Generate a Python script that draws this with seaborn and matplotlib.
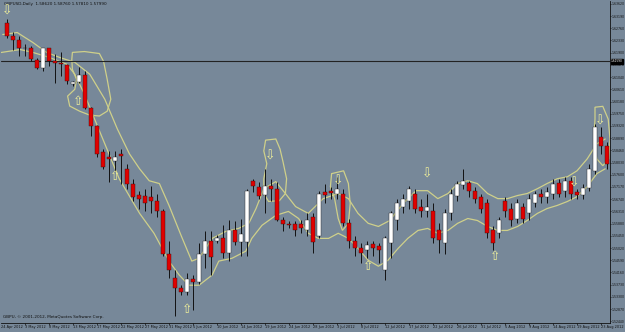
import matplotlib
matplotlib.use("Agg")
import matplotlib.pyplot as plt
import numpy as np
import pandas as pd
import seaborn as sns

# ---------------- data ----------------
opens = [1.6296, 1.6247, 1.6236, 1.6208, 1.6205, 1.6163, 1.6135, 1.6205, 1.6159, 1.6152,
         1.6145, 1.6079, 1.6086, 1.6110, 1.5995, 1.5931, 1.5841, 1.5823, 1.5809, 1.5834,
         1.5781, 1.5729, 1.5690, 1.5687, 1.5683, 1.5669, 1.5634, 1.5480, 1.5396, 1.5361,
         1.5347, 1.5393, 1.5382, 1.5480, 1.5526, 1.5526, 1.5536, 1.5484, 1.5564, 1.5522,
         1.5522, 1.5739, 1.5718, 1.5690, 1.5722, 1.5711, 1.5599, 1.5585, 1.5585, 1.5585,
         1.5564, 1.5613, 1.5543, 1.5701, 1.5704, 1.5694, 1.5694, 1.5589, 1.5526, 1.5501,
         1.5494, 1.5515, 1.5508, 1.5424, 1.5519, 1.5599, 1.5648, 1.5669, 1.5694, 1.5648,
         1.5634, 1.5634, 1.5564, 1.5519, 1.5624, 1.5687, 1.5725, 1.5732, 1.5704, 1.5683,
         1.5659, 1.5564, 1.5554, 1.5669, 1.5641, 1.5606, 1.5648, 1.5624, 1.5659, 1.5694,
         1.5683, 1.5694, 1.5732, 1.5704, 1.5739, 1.5701, 1.5690, 1.5715, 1.5774, 1.5893,
         1.5862]
highs = [1.6310, 1.6264, 1.6250, 1.6219, 1.6212, 1.6170, 1.6208, 1.6208, 1.6184, 1.6194,
         1.6149, 1.6089, 1.6138, 1.6124, 1.5998, 1.5935, 1.5851, 1.5844, 1.5844, 1.5851,
         1.5799, 1.5746, 1.5704, 1.5711, 1.5722, 1.5694, 1.5641, 1.5526, 1.5424, 1.5371,
         1.5414, 1.5407, 1.5519, 1.5561, 1.5561, 1.5547, 1.5582, 1.5599, 1.5596, 1.5606,
         1.5711, 1.5746, 1.5736, 1.5781, 1.5746, 1.5736, 1.5613, 1.5596, 1.5596, 1.5599,
         1.5624, 1.5627, 1.5704, 1.5729, 1.5718, 1.5753, 1.5711, 1.5606, 1.5543, 1.5519,
         1.5526, 1.5526, 1.5519, 1.5543, 1.5634, 1.5676, 1.5694, 1.5722, 1.5711, 1.5676,
         1.5694, 1.5659, 1.5589, 1.5641, 1.5711, 1.5739, 1.5781, 1.5739, 1.5718, 1.5694,
         1.5676, 1.5578, 1.5613, 1.5683, 1.5659, 1.5676, 1.5659, 1.5694, 1.5704, 1.5711,
         1.5718, 1.5746, 1.5746, 1.5753, 1.5753, 1.5711, 1.5729, 1.5799, 1.5939, 1.5928,
         1.5876]
lows = [1.6243, 1.6201, 1.6177, 1.6177, 1.6159, 1.6131, 1.6124, 1.6142, 1.6082, 1.6107,
        1.6079, 1.6072, 1.6082, 1.5991, 1.5897, 1.5823, 1.5781, 1.5736, 1.5774, 1.5729,
        1.5711, 1.5669, 1.5641, 1.5634, 1.5624, 1.5613, 1.5473, 1.5396, 1.5263, 1.5337,
        1.5337, 1.5284, 1.5375, 1.5431, 1.5407, 1.5519, 1.5466, 1.5456, 1.5512, 1.5473,
        1.5473, 1.5701, 1.5676, 1.5624, 1.5666, 1.5596, 1.5561, 1.5571, 1.5543, 1.5554,
        1.5543, 1.5484, 1.5536, 1.5659, 1.5676, 1.5676, 1.5578, 1.5501, 1.5473, 1.5449,
        1.5466, 1.5473, 1.5449, 1.5389, 1.5466, 1.5564, 1.5624, 1.5641, 1.5624, 1.5613,
        1.5613, 1.5519, 1.5484, 1.5480, 1.5599, 1.5666, 1.5711, 1.5683, 1.5659, 1.5624,
        1.5536, 1.5494, 1.5536, 1.5613, 1.5578, 1.5589, 1.5589, 1.5599, 1.5648, 1.5659,
        1.5659, 1.5676, 1.5683, 1.5683, 1.5676, 1.5676, 1.5676, 1.5704, 1.5764, 1.5834,
        1.5781]
closes = [1.6247, 1.6236, 1.6208, 1.6205, 1.6166, 1.6135, 1.6205, 1.6159, 1.6152, 1.6149,
          1.6089, 1.6086, 1.6110, 1.5995, 1.5931, 1.5834, 1.5788, 1.5816, 1.5823, 1.5827,
          1.5729, 1.5683, 1.5676, 1.5659, 1.5669, 1.5634, 1.5480, 1.5424, 1.5361, 1.5347,
          1.5393, 1.5382, 1.5480, 1.5526, 1.5469, 1.5536, 1.5484, 1.5564, 1.5522, 1.5550,
          1.5704, 1.5722, 1.5687, 1.5722, 1.5711, 1.5599, 1.5585, 1.5582, 1.5564, 1.5571,
          1.5599, 1.5522, 1.5694, 1.5690, 1.5697, 1.5711, 1.5589, 1.5526, 1.5501, 1.5484,
          1.5512, 1.5501, 1.5494, 1.5536, 1.5624, 1.5659, 1.5676, 1.5711, 1.5641, 1.5634,
          1.5648, 1.5536, 1.5529, 1.5624, 1.5694, 1.5729, 1.5739, 1.5704, 1.5676, 1.5641,
          1.5554, 1.5519, 1.5599, 1.5634, 1.5599, 1.5659, 1.5606, 1.5676, 1.5694, 1.5683,
          1.5701, 1.5729, 1.5694, 1.5739, 1.5694, 1.5690, 1.5715, 1.5781, 1.5928, 1.5862,
          1.5799]

upper_x = [-0.7, 1.7, 4.3, 6.6, 8.8, 11.3, 13.8, 16.3, 18.4, 20.4, 22.1, 23.7, 25.4, 27.0,
           29.0, 30.8, 32.0, 34.2, 36.5, 38.6, 40.3, 41.5, 42.8, 44.8, 46.4, 48.1, 50.2,
           52.7, 55.2, 56.9, 58.5, 60.2, 61.9, 63.8, 66.0, 68.2, 70.1, 71.8, 73.5, 75.1,
           76.8, 78.4, 80.1, 81.8, 83.4, 85.1, 86.7, 88.4, 90.0, 91.7, 93.4, 95.0, 96.7,
           98.3, 99.7]
upper_y = [1.6254, 1.6261, 1.6226, 1.6191, 1.6173, 1.6156, 1.6114, 1.6026, 1.5921, 1.5834,
           1.5781, 1.5739, 1.5729, 1.5652, 1.5547, 1.5456, 1.5466, 1.5536, 1.5561, 1.5571,
           1.5589, 1.5641, 1.5711, 1.5736, 1.5694, 1.5648, 1.5624, 1.5676, 1.5694, 1.5676,
           1.5624, 1.5589, 1.5578, 1.5599, 1.5659, 1.5704, 1.5704, 1.5676, 1.5694, 1.5729,
           1.5739, 1.5729, 1.5694, 1.5676, 1.5676, 1.5687, 1.5694, 1.5711, 1.5729, 1.5746,
           1.5753, 1.5774, 1.5816, 1.5869, 1.5886]
lower_x = [-1.2, 2.2, 4.3, 7.1, 10.0, 11.3, 12.9, 14.6, 16.3, 18.7, 22.1, 24.5, 27.0, 28.7,
           30.3, 32.0, 34.2, 35.3, 37.5, 39.8, 40.8, 42.5, 44.8, 46.9, 48.6, 50.2, 51.9,
           53.6, 55.2, 56.9, 58.5, 60.2, 61.9, 63.5, 65.2, 66.8, 68.5, 70.1, 71.8, 73.5,
           75.1, 76.8, 78.4, 80.1, 81.8, 83.4, 85.1, 86.7, 88.4, 90.0, 91.7, 93.4, 95.0,
           96.7, 98.3, 99.7]
lower_y = [1.6190, 1.6201, 1.6191, 1.6173, 1.6149, 1.6114, 1.6044, 1.5956, 1.5869, 1.5746,
           1.5624, 1.5554, 1.5456, 1.5407, 1.5371, 1.5371, 1.5407, 1.5456, 1.5466, 1.5491,
           1.5536, 1.5582, 1.5617, 1.5631, 1.5606, 1.5554, 1.5536, 1.5536, 1.5554, 1.5536,
           1.5501, 1.5459, 1.5438, 1.5459, 1.5501, 1.5536, 1.5564, 1.5571, 1.5554, 1.5564,
           1.5589, 1.5606, 1.5599, 1.5578, 1.5564, 1.5564, 1.5578, 1.5599, 1.5624, 1.5641,
           1.5652, 1.5666, 1.5683, 1.5718, 1.5764, 1.5781]

blob1_x = [10.9, 12.9, 15.4, 16.1, 16.7, 17.3, 16.7, 15.4, 13.8, 12.1, 10.45, 10.1, 11.3, 11.6, 10.9, 10.8]
blob1_y = [1.6191, 1.6194, 1.6187, 1.6159, 1.6096, 1.6026, 1.5984, 1.5967, 1.5970, 1.5984,
           1.6002, 1.6037, 1.6061, 1.6096, 1.6131, 1.6166]
blob2_x = [43.1, 44.8, 45.5, 46.0, 46.6, 46.4, 45.4, 43.6, 42.8, 42.8, 43.3, 42.8]
blob2_y = [1.5882, 1.5886, 1.5851, 1.5806, 1.5746, 1.5694, 1.5669, 1.5666, 1.5694, 1.5746,
           1.5799, 1.5844]
blob3_x = [54.1, 56.1, 56.9, 57.2, 56.9, 55.9, 55.2, 54.6, 53.9]
blob3_y = [1.5764, 1.5774, 1.5729, 1.5659, 1.5589, 1.5564, 1.5606, 1.5676, 1.5718]
blob4_x = [98.0, 99.3, 100.2, 100.5, 100.3, 99.3, 98.3, 97.8, 98.0]
blob4_y = [1.5998, 1.6001, 1.5956, 1.5886, 1.5816, 1.5792, 1.5816, 1.5886, 1.5956]

down_arrow_x = [0, 43.9, 55.2, 70.1, 94.5, 98.8]
down_arrow_y = [1.6335, 1.5827, 1.5739, 1.5764, 1.5729, 1.5949]
up_arrow_x = [11.9, 18.1, 30.0, 60.2, 81.4]
up_arrow_y = [1.6019, 1.5753, 1.5284, 1.5438, 1.5473]

date_labels = ["3 May 2012", "8 May 2012", "13 May 2012", "17 May 2012", "22 May 2012",
               "27 May 2012", "31 May 2012", "5 Jun 2012", "10 Jun 2012", "14 Jun 2012",
               "19 Jun 2012", "24 Jun 2012", "28 Jun 2012", "3 Jul 2012", "8 Jul 2012",
               "12 Jul 2012", "17 Jul 2012", "22 Jul 2012", "26 Jul 2012", "31 Jul 2012",
               "5 Aug 2012", "9 Aug 2012", "14 Aug 2012", "19 Aug 2012", "23 Aug 2012"]
first_date_label = "24 Apr 2012"
price_base = 1.52440
price_step = 0.00430
price_count = 27
hline_price = 1.6159

# ---------------- figure ----------------
BG = "#778899"
sns.set_style("white")
plt.rcParams["font.family"] = ["DejaVu Sans"]

fig = plt.figure(figsize=(6.25, 3.32), dpi=100, facecolor=BG)
ax = fig.add_axes([1 / 625, 9 / 332, 609 / 625, 322 / 332])
ax.set_facecolor(BG)

n = len(opens)
idx = np.arange(n)
df = pd.DataFrame({"i": idx, "o": opens, "h": highs, "l": lows, "c": closes})

# bands
band_col = "#cfd08a"
sns.lineplot(x=upper_x, y=upper_y, ax=ax, color=band_col, lw=0.9, sort=False, estimator=None)
sns.lineplot(x=lower_x, y=lower_y, ax=ax, color=band_col, lw=0.9, sort=False, estimator=None)
for bx, by in [(blob1_x, blob1_y), (blob2_x, blob2_y), (blob3_x, blob3_y), (blob4_x, blob4_y)]:
    ax.fill(bx, by, fill=False, edgecolor=band_col, lw=0.9, closed=True)

# candles
ax.vlines(df["i"], df["l"], df["h"], color="#111111", lw=0.7, zorder=3)
bull = df["c"] >= df["o"]
bottoms = np.minimum(df["o"], df["c"])
heights = np.maximum(np.abs(df["c"] - df["o"]), 0.00025)
ax.bar(df["i"][bull], heights[bull], bottom=bottoms[bull], width=0.72,
       color="white", edgecolor="#222222", lw=0.3, zorder=4)
ax.bar(df["i"][~bull], heights[~bull], bottom=bottoms[~bull], width=0.72,
       color="#e00000", edgecolor="#3a1010", lw=0.3, zorder=4)

# arrows
arrow_col = "#eeee99"
for x, y in zip(down_arrow_x, down_arrow_y):
    ax.text(x, y, "\u21e9", ha="center", va="center", fontsize=9, color=arrow_col, zorder=5)
for x, y in zip(up_arrow_x, up_arrow_y):
    ax.text(x, y, "\u21e7", ha="center", va="center", fontsize=9, color=arrow_col, zorder=5)

# horizontal line
ax.axhline(hline_price, color="#222222", lw=0.8, zorder=2)

# limits
ylo, yhi = 1.5238, 1.6372
ax.set_xlim(-1.0, 100.5)
ax.set_ylim(ylo, yhi)

# price axis on right
ticks = [price_base + price_step * k for k in range(price_count)]
ax.yaxis.tick_right()
ax.set_yticks(ticks)
ax.set_yticklabels([f"{t:.5f}" for t in ticks])
ax.tick_params(axis="y", direction="out", length=0.8, width=0.5, pad=0.2, labelsize=2.25,
               colors="#111111", right=True, left=False)
ax.text(1.0015, (hline_price - ylo) / (yhi - ylo), f"{hline_price:.5f}",
        transform=ax.transAxes, fontsize=2.1, color="white", va="center", ha="left",
        bbox=dict(boxstyle="square,pad=0.05", fc="black", ec="black"))

# date axis
pos = [3 + 4 * j for j in range(len(date_labels))]
ax.set_xticks(pos)
ax.set_xticklabels(date_labels, ha="left")
ax.tick_params(axis="x", direction="out", length=1.2, width=0.5, pad=0.3, labelsize=2.5,
               colors="#111111", bottom=True)
ax.text(0.0, -0.006, first_date_label, transform=ax.transAxes, fontsize=2.5,
        color="#111111", va="top", ha="left")

for s in ["left", "top"]:
    ax.spines[s].set_visible(False)
for s in ["right", "bottom"]:
    ax.spines[s].set_color("#111111")
    ax.spines[s].set_linewidth(0.6)

# texts
ax.text(0.005, 0.997, f"GBPUSD,Daily  {opens[-1]:.5f} {highs[-1]:.5f} {lows[-1]:.5f} {closes[-1]:.5f}",
        transform=ax.transAxes, fontsize=3.0, color="#111111", va="top", ha="left")
ax.text(0.003, 0.012, "GBPU, \u00a9 2001-2012, MetaQuotes Software Corp.",
        transform=ax.transAxes, fontsize=3.0, color="#111111", va="bottom", ha="left")

fig.savefig("out.png", dpi=100, facecolor=BG)
